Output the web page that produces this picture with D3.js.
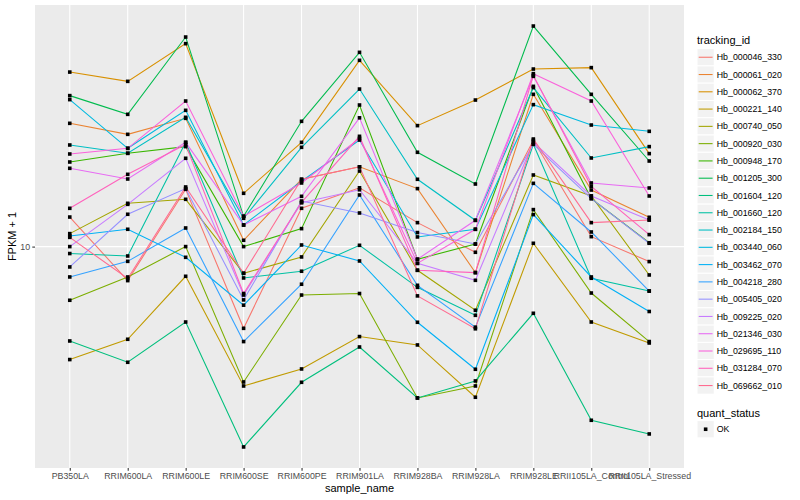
<!DOCTYPE html>
<html><head><meta charset="utf-8">
<script src="https://cdn.jsdelivr.net/npm/d3@7"></script>
<style>body{margin:0;background:#fff}svg{display:block;font-family:"Liberation Sans",Arial,sans-serif}</style>
</head><body><svg id="c" width="800" height="500"></svg>
<script>
const samples = ["PB350LA","RRIM600LA","RRIM600LE","RRIM600SE","RRIM600PE","RRIM901LA","RRIM928BA","RRIM928LA","RRIM928LE","RRII105LA_Control","RRII105LA_Stressed"];
const trackingIds = ["Hb_000046_330","Hb_000061_020","Hb_000062_370","Hb_000221_140","Hb_000740_050","Hb_000920_030","Hb_000948_170","Hb_001205_300","Hb_001604_120","Hb_001660_120","Hb_002184_150","Hb_003440_060","Hb_003462_070","Hb_004218_280","Hb_005405_020","Hb_009225_020","Hb_021346_030","Hb_029695_110","Hb_031284_070","Hb_069662_010"];
const colors = ["#F8766D","#EA8331","#D89000","#C09B00","#A3A500","#7CAE00","#39B600","#00BB4E","#00BF7D","#00C1A3","#00BFC4","#00BAE0","#00B0F6","#35A2FF","#9590FF","#C77CFF","#E76BF3","#FA62DB","#FF62BC","#FF6C91"];
const yTicks = [10];
// FPKM + 1 per tracking_id, one value per sample
const fpkm = [
 [13.13,7.31,16.95,4.71,14.23,17.19,12.47,9.49,26.62,10.96,8.71],
 [31.13,28.13,32.6,10.6,18.59,20.85,17.06,7.87,40.66,16.84,13.1],
 [49.92,45.83,64.86,16.34,26.13,55.62,30.48,38.58,51.33,52.0,23.55],
 [3.532,4.258,7.607,2.769,3.239,4.365,4.041,2.496,10.31,4.992,4.115],
 [11.27,14.9,15.46,7.82,9.09,20.06,8.04,5.562,19.34,15.94,7.70],
 [6.10,7.56,10.0,2.873,6.40,6.49,2.48,2.769,14.06,6.52,4.169],
 [21.8,23.62,25.12,10.0,11.8,36.85,8.90,10.24,43.77,15.56,10.36],
 [40.18,33.82,68.93,13.22,31.71,59.87,23.84,17.8,76.28,40.66,22.0],
 [4.192,3.445,4.992,1.579,2.865,3.966,2.48,2.90,5.41,2.019,1.78],
 [9.38,9.17,26.13,7.49,7.97,10.12,6.87,5.31,25.66,7.47,6.64],
 [25.5,23.62,32.9,12.98,24.96,42.69,18.59,12.74,43.25,22.62,25.12],
 [38.73,24.73,35.09,12.2,18.25,26.69,10.93,11.73,36.98,30.65,28.92],
 [11.03,11.73,9.06,5.83,10.15,8.76,4.98,3.23,13.43,7.56,5.50],
 [7.56,8.73,11.87,4.169,7.07,16.09,7.00,4.76,17.91,11.44,6.64],
 [8.29,13.47,17.06,6.12,15.22,13.63,11.38,10.24,25.66,15.56,10.31],
 [10.0,14.76,22.56,6.40,14.97,16.88,8.57,7.33,26.2,15.94,12.78],
 [20.57,18.64,26.13,12.2,15.89,32.75,8.90,12.74,48.0,17.97,17.16],
 [23.47,24.73,38.23,13.22,17.97,27.12,8.57,11.73,49.2,38.23,15.94],
 [14.23,19.46,25.59,6.49,15.04,27.62,8.04,7.87,48.44,17.43,11.17],
 [10.89,7.45,17.32,7.82,18.59,20.85,6.35,4.69,26.94,12.47,12.78]
];

const svg = d3.select("#c");
const P = {l:35, r:684, t:5, b:468};
const x = d3.scalePoint().domain(samples).range([P.l, P.r]).padding(0.6);
const all = fpkm.flat();
const lmin = Math.log10(d3.min(all)), lmax = Math.log10(d3.max(all));
const sp = lmax - lmin;
const y = d3.scaleLog().domain([Math.pow(10, lmin - 0.05*sp), Math.pow(10, lmax + 0.05*sp)]).range([P.b, P.t]);

svg.append("rect").attr("x",P.l).attr("y",P.t).attr("width",P.r-P.l).attr("height",P.b-P.t).attr("fill","#EBEBEB");
// grid
svg.append("g").selectAll("line").data(yTicks).join("line")
  .attr("x1",P.l).attr("x2",P.r).attr("y1",d=>y(d)).attr("y2",d=>y(d)).attr("stroke","#fff").attr("stroke-width",1.07);
svg.append("g").selectAll("line").data(samples).join("line")
  .attr("x1",d=>x(d)).attr("x2",d=>x(d)).attr("y1",P.t).attr("y2",P.b).attr("stroke","#fff").attr("stroke-width",1.07);

// lines
const line = d3.line().x((d,i)=>x(samples[i])).y(d=>y(d));
svg.append("g").selectAll("path").data(fpkm).join("path")
  .attr("d", line).attr("fill","none").attr("stroke",(d,i)=>colors[i]).attr("stroke-width",1.07);
// points
const pts = [];
fpkm.forEach(s=>s.forEach((v,i)=>pts.push([samples[i],v])));
svg.append("g").selectAll("rect").data(pts).join("rect")
  .attr("x",d=>x(d[0])-1.8).attr("y",d=>y(d[1])-1.8).attr("width",3.6).attr("height",3.6).attr("fill","#000");

// axes
const xa = svg.append("g").attr("transform",`translate(0,${P.b})`)
  .call(d3.axisBottom(x).tickSize(2.7).tickPadding(2.2));
const ya = svg.append("g").attr("transform",`translate(${P.l},0)`)
  .call(d3.axisLeft(y).tickValues(yTicks).tickFormat(d3.format("d")).tickSize(2.7).tickPadding(2.2));
[xa,ya].forEach(a=>{a.select(".domain").remove();a.selectAll("line").attr("stroke","#333333").attr("stroke-width",1.07);
  a.selectAll("text").attr("fill","#4D4D4D").attr("font-size",8.8).attr("font-family","Liberation Sans, Arial, sans-serif");});

svg.append("text").attr("x",(P.l+P.r)/2).attr("y",492).attr("text-anchor","middle").attr("font-size",11).attr("fill","#000").text("sample_name");
svg.append("text").attr("transform",`translate(16,${(P.t+P.b)/2}) rotate(-90)`).attr("text-anchor","middle").attr("font-size",11).attr("fill","#000").text("FPKM + 1");

// legend
const lg = svg.append("g");
lg.append("text").attr("x",697).attr("y",44).attr("font-size",11).text("tracking_id");
const ky0 = 48.6, kh = 17.28;
const items = lg.selectAll("g.k").data(trackingIds).join("g").attr("class","k")
  .attr("transform",(d,i)=>`translate(697,${ky0+i*kh})`);
items.append("rect").attr("width",kh).attr("height",kh).attr("fill","#F2F2F2").attr("stroke","#fff").attr("stroke-width",1);
items.append("line").attr("x1",1.7).attr("x2",kh-1.7).attr("y1",kh/2).attr("y2",kh/2).attr("stroke",(d,i)=>colors[i]).attr("stroke-width",1.07);
items.append("text").attr("x",kh+2.5).attr("y",kh/2+3.1).attr("font-size",8.8).attr("fill","#000").text(d=>d);

const qs = ["OK"];
lg.append("text").attr("x",697).attr("y",417).attr("font-size",11).text("quant_status");
const q = lg.selectAll("g.q").data(qs).join("g").attr("class","q").attr("transform",(d,i)=>`translate(697,${420.6+i*kh})`);
q.append("rect").attr("width",kh).attr("height",kh).attr("fill","#F2F2F2").attr("stroke","#fff");
q.append("rect").attr("x",kh/2-1.8).attr("y",kh/2-1.8).attr("width",3.6).attr("height",3.6).attr("fill","#000");
q.append("text").attr("x",kh+2.5).attr("y",kh/2+3.1).attr("font-size",8.8).text(d=>d);
</script></body></html>
